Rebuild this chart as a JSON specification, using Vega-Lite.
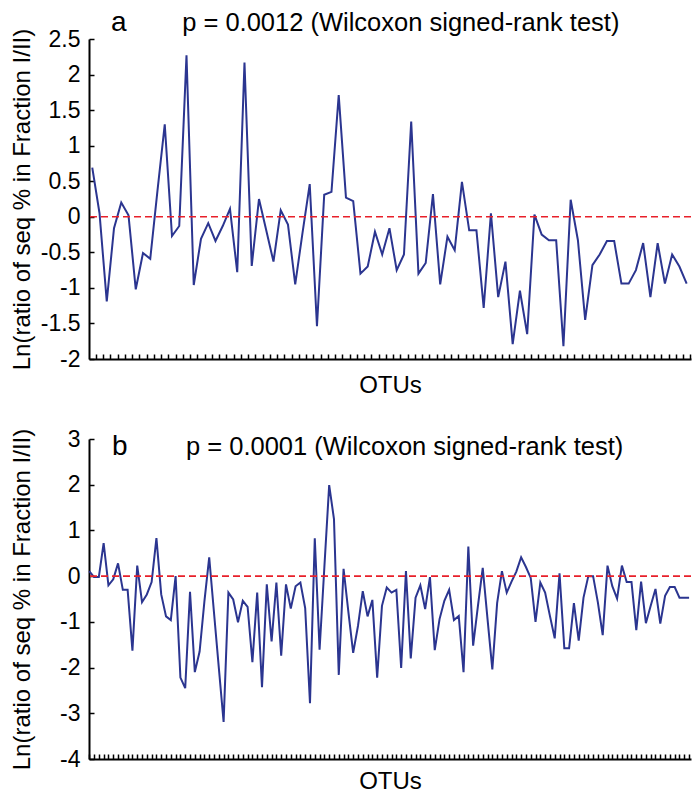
{
  "$schema": "https://vega.github.io/schema/vega-lite/v6.json",
  "autosize": {"type": "pad"},
  "padding": {"left": 10, "top": 9, "right": 0, "bottom": 0},
  "bounds": "flush",
  "spacing": 80,
  "config": {
    "font": "Liberation Sans",
    "view": {"stroke": null},
    "axis": {
      "grid": false,
      "domainColor": "black",
      "domainWidth": 2,
      "tickColor": "black",
      "tickWidth": 1.5,
      "tickSize": -5,
      "tickCount": 300,
      "labelOverlap": false,
      "labelFlush": false,
      "labelFont": "Liberation Sans",
      "labelFontSize": 23,
      "labelColor": "black",
      "labelPadding": 14,
      "titleFont": "Liberation Sans",
      "titleFontSize": 24,
      "titleFontWeight": "normal",
      "titleColor": "black"
    }
  },
  "datasets": {
    "a": [
      {"otu": 1, "ratio": 0.69}, {"otu": 2, "ratio": 0.05}, {"otu": 3, "ratio": -1.19}, {"otu": 4, "ratio": -0.16},
      {"otu": 5, "ratio": 0.2}, {"otu": 6, "ratio": 0.02}, {"otu": 7, "ratio": -1.02}, {"otu": 8, "ratio": -0.51},
      {"otu": 9, "ratio": -0.59}, {"otu": 10, "ratio": 0.37}, {"otu": 11, "ratio": 1.3}, {"otu": 12, "ratio": -0.27},
      {"otu": 13, "ratio": -0.13}, {"otu": 14, "ratio": 2.27}, {"otu": 15, "ratio": -0.96}, {"otu": 16, "ratio": -0.31},
      {"otu": 17, "ratio": -0.09}, {"otu": 18, "ratio": -0.34}, {"otu": 19, "ratio": -0.13}, {"otu": 20, "ratio": 0.11},
      {"otu": 21, "ratio": -0.78}, {"otu": 22, "ratio": 2.17}, {"otu": 23, "ratio": -0.69}, {"otu": 24, "ratio": 0.25},
      {"otu": 25, "ratio": -0.19}, {"otu": 26, "ratio": -0.63}, {"otu": 27, "ratio": 0.09}, {"otu": 28, "ratio": -0.11},
      {"otu": 29, "ratio": -0.95}, {"otu": 30, "ratio": -0.23}, {"otu": 31, "ratio": 0.46}, {"otu": 32, "ratio": -1.54},
      {"otu": 33, "ratio": 0.31}, {"otu": 34, "ratio": 0.35}, {"otu": 35, "ratio": 1.71}, {"otu": 36, "ratio": 0.27},
      {"otu": 37, "ratio": 0.22}, {"otu": 38, "ratio": -0.8}, {"otu": 39, "ratio": -0.7}, {"otu": 40, "ratio": -0.21},
      {"otu": 41, "ratio": -0.53}, {"otu": 42, "ratio": -0.16}, {"otu": 43, "ratio": -0.75}, {"otu": 44, "ratio": -0.53},
      {"otu": 45, "ratio": 1.34}, {"otu": 46, "ratio": -0.8}, {"otu": 47, "ratio": -0.65}, {"otu": 48, "ratio": 0.32},
      {"otu": 49, "ratio": -0.95}, {"otu": 50, "ratio": -0.28}, {"otu": 51, "ratio": -0.47}, {"otu": 52, "ratio": 0.49},
      {"otu": 53, "ratio": -0.19}, {"otu": 54, "ratio": -0.19}, {"otu": 55, "ratio": -1.28}, {"otu": 56, "ratio": 0.05},
      {"otu": 57, "ratio": -1.13}, {"otu": 58, "ratio": -0.63}, {"otu": 59, "ratio": -1.79}, {"otu": 60, "ratio": -1.04},
      {"otu": 61, "ratio": -1.65}, {"otu": 62, "ratio": 0.03}, {"otu": 63, "ratio": -0.25}, {"otu": 64, "ratio": -0.33},
      {"otu": 65, "ratio": -0.33}, {"otu": 66, "ratio": -1.82}, {"otu": 67, "ratio": 0.24}, {"otu": 68, "ratio": -0.33},
      {"otu": 69, "ratio": -1.45}, {"otu": 70, "ratio": -0.68}, {"otu": 71, "ratio": -0.53}, {"otu": 72, "ratio": -0.34},
      {"otu": 73, "ratio": -0.34}, {"otu": 74, "ratio": -0.94}, {"otu": 75, "ratio": -0.94}, {"otu": 76, "ratio": -0.75},
      {"otu": 77, "ratio": -0.37}, {"otu": 78, "ratio": -1.13}, {"otu": 79, "ratio": -0.37}, {"otu": 80, "ratio": -0.94},
      {"otu": 81, "ratio": -0.53}, {"otu": 82, "ratio": -0.7}, {"otu": 83, "ratio": -0.94}
    ],
    "b": [
      {"otu": 1, "ratio": 0.11}, {"otu": 2, "ratio": -0.02}, {"otu": 3, "ratio": -0.02}, {"otu": 4, "ratio": 0.72},
      {"otu": 5, "ratio": -0.2}, {"otu": 6, "ratio": -0.07}, {"otu": 7, "ratio": 0.28}, {"otu": 8, "ratio": -0.3},
      {"otu": 9, "ratio": -0.3}, {"otu": 10, "ratio": -1.63}, {"otu": 11, "ratio": 0.23}, {"otu": 12, "ratio": -0.57},
      {"otu": 13, "ratio": -0.4}, {"otu": 14, "ratio": -0.13}, {"otu": 15, "ratio": 0.83}, {"otu": 16, "ratio": -0.4},
      {"otu": 17, "ratio": -0.88}, {"otu": 18, "ratio": -0.96}, {"otu": 19, "ratio": 0.0}, {"otu": 20, "ratio": -2.22},
      {"otu": 21, "ratio": -2.45}, {"otu": 22, "ratio": -0.34}, {"otu": 23, "ratio": -2.1}, {"otu": 24, "ratio": -1.65},
      {"otu": 25, "ratio": -0.55}, {"otu": 26, "ratio": 0.41}, {"otu": 27, "ratio": -0.8}, {"otu": 28, "ratio": -2.0},
      {"otu": 29, "ratio": -3.19}, {"otu": 30, "ratio": -0.36}, {"otu": 31, "ratio": -0.51}, {"otu": 32, "ratio": -1.01},
      {"otu": 33, "ratio": -0.54}, {"otu": 34, "ratio": -0.67}, {"otu": 35, "ratio": -1.88}, {"otu": 36, "ratio": -0.36},
      {"otu": 37, "ratio": -2.43}, {"otu": 38, "ratio": -0.18}, {"otu": 39, "ratio": -1.43}, {"otu": 40, "ratio": -0.14},
      {"otu": 41, "ratio": -1.74}, {"otu": 42, "ratio": -0.18}, {"otu": 43, "ratio": -0.71}, {"otu": 44, "ratio": -0.22},
      {"otu": 45, "ratio": -0.14}, {"otu": 46, "ratio": -0.7}, {"otu": 47, "ratio": -2.78}, {"otu": 48, "ratio": 0.83},
      {"otu": 49, "ratio": -1.61}, {"otu": 50, "ratio": 0.2}, {"otu": 51, "ratio": 1.99}, {"otu": 52, "ratio": 1.25},
      {"otu": 53, "ratio": -2.16}, {"otu": 54, "ratio": 0.16}, {"otu": 55, "ratio": -0.78}, {"otu": 56, "ratio": -1.68},
      {"otu": 57, "ratio": -1.09}, {"otu": 58, "ratio": -0.33}, {"otu": 59, "ratio": -0.88}, {"otu": 60, "ratio": -0.52},
      {"otu": 61, "ratio": -2.22}, {"otu": 62, "ratio": -0.65}, {"otu": 63, "ratio": -0.25}, {"otu": 64, "ratio": -0.36},
      {"otu": 65, "ratio": -0.3}, {"otu": 66, "ratio": -2.01}, {"otu": 67, "ratio": 0.11}, {"otu": 68, "ratio": -1.8},
      {"otu": 69, "ratio": -0.47}, {"otu": 70, "ratio": -0.2}, {"otu": 71, "ratio": -0.72}, {"otu": 72, "ratio": -0.02},
      {"otu": 73, "ratio": -1.62}, {"otu": 74, "ratio": -0.94}, {"otu": 75, "ratio": -0.54}, {"otu": 76, "ratio": -0.3},
      {"otu": 77, "ratio": -0.96}, {"otu": 78, "ratio": -0.87}, {"otu": 79, "ratio": -2.1}, {"otu": 80, "ratio": 0.65},
      {"otu": 81, "ratio": -1.52}, {"otu": 82, "ratio": -0.65}, {"otu": 83, "ratio": 0.18}, {"otu": 84, "ratio": -0.94},
      {"otu": 85, "ratio": -2.04}, {"otu": 86, "ratio": -0.59}, {"otu": 87, "ratio": 0.11}, {"otu": 88, "ratio": -0.36},
      {"otu": 89, "ratio": -0.12}, {"otu": 90, "ratio": 0.1}, {"otu": 91, "ratio": 0.41}, {"otu": 92, "ratio": 0.2},
      {"otu": 93, "ratio": -0.04}, {"otu": 94, "ratio": -1.0}, {"otu": 95, "ratio": -0.14}, {"otu": 96, "ratio": -0.36},
      {"otu": 97, "ratio": -0.87}, {"otu": 98, "ratio": -1.36}, {"otu": 99, "ratio": 0.06}, {"otu": 100, "ratio": -1.58},
      {"otu": 101, "ratio": -1.58}, {"otu": 102, "ratio": -0.59}, {"otu": 103, "ratio": -1.41}, {"otu": 104, "ratio": -0.47},
      {"otu": 105, "ratio": 0.0}, {"otu": 106, "ratio": 0.0}, {"otu": 107, "ratio": -0.58}, {"otu": 108, "ratio": -1.29},
      {"otu": 109, "ratio": 0.23}, {"otu": 110, "ratio": -0.22}, {"otu": 111, "ratio": -0.49}, {"otu": 112, "ratio": 0.23},
      {"otu": 113, "ratio": -0.13}, {"otu": 114, "ratio": -0.13}, {"otu": 115, "ratio": -1.18}, {"otu": 116, "ratio": -0.12},
      {"otu": 117, "ratio": -1.03}, {"otu": 118, "ratio": -0.65}, {"otu": 119, "ratio": -0.28}, {"otu": 120, "ratio": -1.04},
      {"otu": 121, "ratio": -0.43}, {"otu": 122, "ratio": -0.24}, {"otu": 123, "ratio": -0.24}, {"otu": 124, "ratio": -0.47},
      {"otu": 125, "ratio": -0.47}, {"otu": 126, "ratio": -0.47}
    ]
  },
  "vconcat": [
    {
      "width": 602,
      "height": 320,
      "layer": [
        {
          "data": {"name": "a"},
          "mark": {"type": "line", "color": "#2B3590", "strokeWidth": 2},
          "encoding": {
            "x": {
              "field": "otu", "type": "quantitative",
              "scale": {"domain": [0.55, 83.6], "nice": false, "zero": false},
              "axis": {
                "title": "OTUs", "labels": false, "titleY": 33, "titleBaseline": "alphabetic",
                "values": [1.5,2.5,3.5,4.5,5.5,6.5,7.5,8.5,9.5,10.5,11.5,12.5,13.5,14.5,15.5,16.5,17.5,18.5,19.5,20.5,21.5,22.5,23.5,24.5,25.5,26.5,27.5,28.5,29.5,30.5,31.5,32.5,33.5,34.5,35.5,36.5,37.5,38.5,39.5,40.5,41.5,42.5,43.5,44.5,45.5,46.5,47.5,48.5,49.5,50.5,51.5,52.5,53.5,54.5,55.5,56.5,57.5,58.5,59.5,60.5,61.5,62.5,63.5,64.5,65.5,66.5,67.5,68.5,69.5,70.5,71.5,72.5,73.5,74.5,75.5,76.5,77.5,78.5,79.5,80.5,81.5,82.5,83.5]
              }
            },
            "y": {
              "field": "ratio", "type": "quantitative",
              "scale": {"domain": [-2, 2.5], "nice": false, "zero": false},
              "axis": {
                "title": "Ln(ratio of seq % in Fraction I/II)",
                "values": [-2, -1.5, -1, -0.5, 0, 0.5, 1, 1.5, 2, 2.5],
                "labelExpr": "'' + datum.value",
                "titleX": -60, "titleY": 160, "titleBaseline": "alphabetic", "titleAngle": -90, "titleAlign": "center"
              }
            }
          }
        },
        {
          "data": {"values": [{}]},
          "mark": {"type": "rule", "color": "#E8202A", "strokeWidth": 1.6, "strokeDash": [7, 4]},
          "encoding": {"y": {"datum": 0}}
        },
        {
          "data": {"values": [{}]},
          "mark": {"type": "text", "align": "left", "baseline": "alphabetic", "fontSize": 28, "font": "Liberation Sans", "color": "black"},
          "encoding": {"x": {"datum": 3.6}, "y": {"datum": 2.61}, "text": {"value": "a"}}
        },
        {
          "data": {"values": [{}]},
          "mark": {"type": "text", "align": "left", "baseline": "alphabetic", "fontSize": 25.5, "font": "Liberation Sans", "color": "black"},
          "encoding": {"x": {"datum": 13.4}, "y": {"datum": 2.61}, "text": {"value": "p = 0.0012 (Wilcoxon signed-rank test)"}}
        }
      ]
    },
    {
      "width": 602,
      "height": 320,
      "layer": [
        {
          "data": {"name": "b"},
          "mark": {"type": "line", "color": "#2B3590", "strokeWidth": 2},
          "encoding": {
            "x": {
              "field": "otu", "type": "quantitative",
              "scale": {"domain": [0.95, 126.4], "nice": false, "zero": false},
              "axis": {
                "title": "OTUs", "labels": false, "titleY": 29, "titleBaseline": "alphabetic",
                "values": [1,2,3,4,5,6,7,8,9,10,11,12,13,14,15,16,17,18,19,20,21,22,23,24,25,26,27,28,29,30,31,32,33,34,35,36,37,38,39,40,41,42,43,44,45,46,47,48,49,50,51,52,53,54,55,56,57,58,59,60,61,62,63,64,65,66,67,68,69,70,71,72,73,74,75,76,77,78,79,80,81,82,83,84,85,86,87,88,89,90,91,92,93,94,95,96,97,98,99,100,101,102,103,104,105,106,107,108,109,110,111,112,113,114,115,116,117,118,119,120,121,122,123,124,125,126]
              }
            },
            "y": {
              "field": "ratio", "type": "quantitative",
              "scale": {"domain": [-4, 3], "nice": false, "zero": false},
              "axis": {
                "title": "Ln(ratio of seq % in Fraction I/II)",
                "values": [-4, -3, -2, -1, 0, 1, 2, 3],
                "labelExpr": "'' + datum.value",
                "titleX": -60, "titleY": 160, "titleBaseline": "alphabetic", "titleAngle": -90, "titleAlign": "center"
              }
            }
          }
        },
        {
          "data": {"values": [{}]},
          "mark": {"type": "rule", "color": "#E8202A", "strokeWidth": 1.6, "strokeDash": [7, 4]},
          "encoding": {"y": {"datum": 0}}
        },
        {
          "data": {"values": [{}]},
          "mark": {"type": "text", "align": "left", "baseline": "alphabetic", "fontSize": 28, "font": "Liberation Sans", "color": "black"},
          "encoding": {"x": {"datum": 5.74}, "y": {"datum": 2.65}, "text": {"value": "b"}}
        },
        {
          "data": {"values": [{}]},
          "mark": {"type": "text", "align": "left", "baseline": "alphabetic", "fontSize": 25.5, "font": "Liberation Sans", "color": "black"},
          "encoding": {"x": {"datum": 21.16}, "y": {"datum": 2.65}, "text": {"value": "p = 0.0001 (Wilcoxon signed-rank test)"}}
        }
      ]
    }
  ]
}
